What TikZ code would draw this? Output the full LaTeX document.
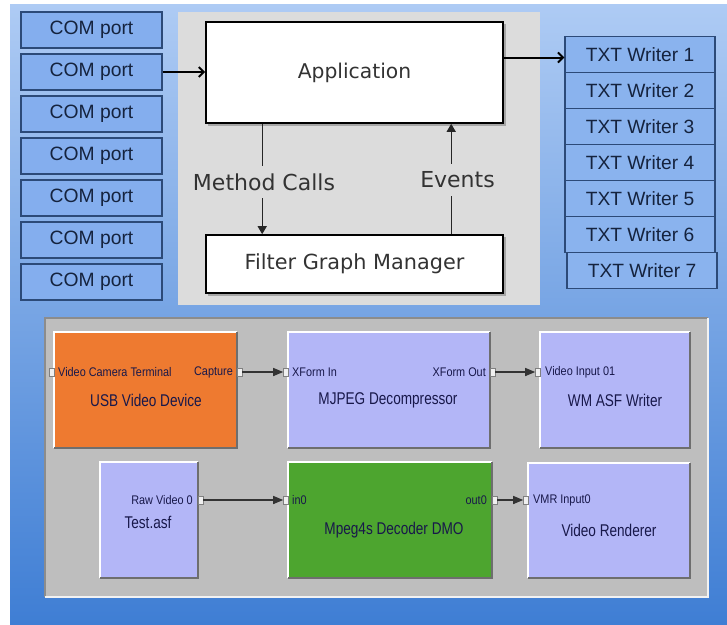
\documentclass[tikz,border=0pt]{standalone}
\usepackage{fontspec}
\setmainfont{Liberation Sans}
\newfontfamily\verd{DejaVu Sans}
\newfontfamily\narrowA[FakeStretch=0.8]{Liberation Sans}
\newfontfamily\narrowB[FakeStretch=0.87]{Liberation Sans}
\usetikzlibrary{arrows.meta,calc}
\definecolor{bgtop}{HTML}{AECBF4}
\definecolor{bgmid}{HTML}{7FA9EA}
\definecolor{bgbot}{HTML}{3F7ED4}
\definecolor{comfill}{HTML}{84AEEE}
\definecolor{txtfill}{HTML}{8AB3EE}
\definecolor{comline}{HTML}{2C4A78}
\definecolor{navytext}{HTML}{15233E}
\definecolor{panelA}{HTML}{DCDCDC}
\definecolor{panelB}{HTML}{BEBEBE}
\definecolor{usbfill}{HTML}{EE7A30}
\definecolor{lavfill}{HTML}{B3B6F7}
\definecolor{grnfill}{HTML}{4DA52F}
\definecolor{filtertext}{HTML}{18184A}
\definecolor{darkedge}{HTML}{6E6E6E}
\newcommand\fbedges[1]{%
  \draw[white, line width=2.5pt] (#1.south west) -- (#1.north west) -- (#1.north east);
  \draw[darkedge, line width=2pt] (#1.north east) -- (#1.south east) -- (#1.south west);}
\begin{document}
\begin{tikzpicture}[x=1pt,y=-1pt,
  combox/.style={draw=comline, line width=1.2pt, fill=comfill, minimum width=141pt, minimum height=36pt, inner sep=0pt, text=navytext, font=\fontsize{19.3}{22}\selectfont},
  txtbox/.style={draw=comline, line width=1.2pt, fill=txtfill, minimum width=150pt, minimum height=36pt, inner sep=0pt, text=navytext, font=\fontsize{19.2}{22}\selectfont},
  mainbox/.style={draw=black, line width=1.6pt, fill=white, inner sep=0pt, text=black!80},
  flowlabel/.style={fill=panelA, inner sep=1pt, minimum height=32pt, text=black!80, font=\verd\fontsize{22}{26}\selectfont},
  filterbox/.style={inner sep=0pt},
  pinbox/.style={draw=gray, fill=black!6, line width=0.6pt, minimum width=5pt, minimum height=8pt, inner sep=0pt},
  biglab/.style={text=filtertext, inner sep=0pt, font=\narrowA\fontsize{17}{20}\selectfont},
  smalllab/.style={text=filtertext, inner sep=0pt, font=\narrowB\fontsize{12.5}{15}\selectfont},
  barb/.style={-{Straight Barb[length=5pt,width=10pt]}, line width=2pt, black},
  tri/.style={-{Triangle[length=8pt,width=9pt]}, line width=1.4pt, black!85},
  conn/.style={-{Triangle[length=10pt,width=8pt]}, line width=1.3pt, black!80}]
\path[use as bounding box] (0,0) rectangle (727,624);
\fill[bgbot] (10,300) rectangle (740,640);
\shade[top color=bgtop, middle color=bgmid, bottom color=bgbot] (10,4) rectangle (740,624);
% COM ports
\foreach \i in {1,...,7} {
  \node[combox] (com\i) at (91.5,{30+42*(\i-1)}) {COM port};
}
% TXT writers
\foreach \i in {1,...,6} {
  \node[txtbox] (txt\i) at (640,{54.5+36*(\i-1)}) {TXT Writer \i};
}
\node[txtbox] (txt7) at (642,270.5) {TXT Writer 7};
% central panel
\node[fill=panelA, minimum width=362pt, minimum height=293pt, inner sep=0pt] (cpanel) at (359,158.5) {};
\fill[black!35] (208,24) rectangle (505.5,125.5);
\node[mainbox, minimum width=297pt, minimum height=101pt, font=\verd\fontsize{20.3}{24}\selectfont] (app) at (354.5,72.5) {Application};
\fill[black!35] (208,237) rectangle (505.5,295.5);
\node[mainbox, minimum width=297pt, minimum height=58pt, font=\verd\fontsize{20.8}{24}\selectfont] (fgm) at (354.5,264) {Filter Graph Manager};
\draw[tri] ($(app.south west)+(57,0)$) -- ($(fgm.north west)+(57,0)$);
\draw[tri] ($(fgm.north west)+(246,0)$) -- ($(app.south west)+(246,0)$);
\node[flowlabel] (mc) at (264,182) {Method Calls};
\node[flowlabel] (ev) at (457.5,180) {Events};
\draw[barb] (com2.east) -- (com2.east -| app.west);
\draw[barb] ($(app.east |- txt1.west)+(0,3)$) -- ($(txt1.west)+(0,3)$);
% bottom panel
\node[fill=panelB, minimum width=663pt, minimum height=279pt, inner sep=0pt] (bp) at (376.5,457.5) {};
\draw[black!45, line width=1.5pt] (bp.south west) -- (bp.north west) -- (bp.north east);
\draw[white!80!panelB, line width=1.5pt] (bp.north east) -- (bp.south east) -- (bp.south west);
% filters
\node[filterbox, fill=usbfill, minimum width=183pt, minimum height=116pt] (usb) at (145.5,390) {};
\node[filterbox, fill=lavfill, minimum width=202pt, minimum height=116pt] (mj) at (389,390) {};
\node[filterbox, fill=lavfill, minimum width=150pt, minimum height=116pt] (wm) at (615,390) {};
\node[filterbox, fill=lavfill, minimum width=98pt, minimum height=116pt] (tf) at (149,520) {};
\node[filterbox, fill=grnfill, minimum width=204pt, minimum height=116pt] (mp) at (390,520) {};
\node[filterbox, fill=lavfill, minimum width=162pt, minimum height=115pt] (vr) at (609,520.5) {};
\fbedges{usb}\fbedges{mj}\fbedges{wm}\fbedges{tf}\fbedges{mp}\fbedges{vr}
% labels
\node[smalllab, anchor=west] (usbl) at (58,372) {Video Camera Terminal};
\node[smalllab, anchor=east] (usbr) at (233,372) {Capture};
\node[biglab] (usbn) at (146,400) {USB Video Device};
\node[smalllab, anchor=west] (mjl) at (292,372) {XForm In};
\node[smalllab, anchor=east] (mjr) at (486,372) {XForm Out};
\node[biglab] (mjn) at (388,400) {MJPEG Decompressor};
\node[smalllab, anchor=west] (wml) at (545,372) {Video Input 01};
\node[biglab] (wmn) at (615,400) {WM ASF Writer};
\node[smalllab, anchor=east] (tfr) at (193,500) {Raw Video 0};
\node[biglab] (tfn) at (148,522) {Test.asf};
\node[smalllab, anchor=west] (mpl) at (292,500) {in0};
\node[smalllab, anchor=east] (mpr) at (487,500) {out0};
\node[biglab] (mpn) at (394,530) {Mpeg4s Decoder DMO};
\node[smalllab, anchor=west] (vrl) at (533,500) {VMR Input0};
\node[biglab] (vrn) at (609,530) {Video Renderer};
% pins
\node[pinbox] (usbL) at (52,372) {};
\node[pinbox] (usbR) at (239.5,372) {};
\node[pinbox] (mjL) at (286,372) {};
\node[pinbox] (mjR) at (492.5,372) {};
\node[pinbox] (wmL) at (538,372) {};
\node[pinbox] (tfR) at (200.5,500) {};
\node[pinbox] (mpL) at (286,500) {};
\node[pinbox] (mpR) at (494.5,500) {};
\node[pinbox] (vrL) at (526,500) {};
% connectors
\draw[conn] (usbR.east) -- (mjL.west);
\draw[conn] (mjR.east) -- (wmL.west);
\draw[conn] (tfR.east) -- (mpL.west);
\draw[conn] (mpR.east) -- (vrL.west);
\end{tikzpicture}
\end{document}
